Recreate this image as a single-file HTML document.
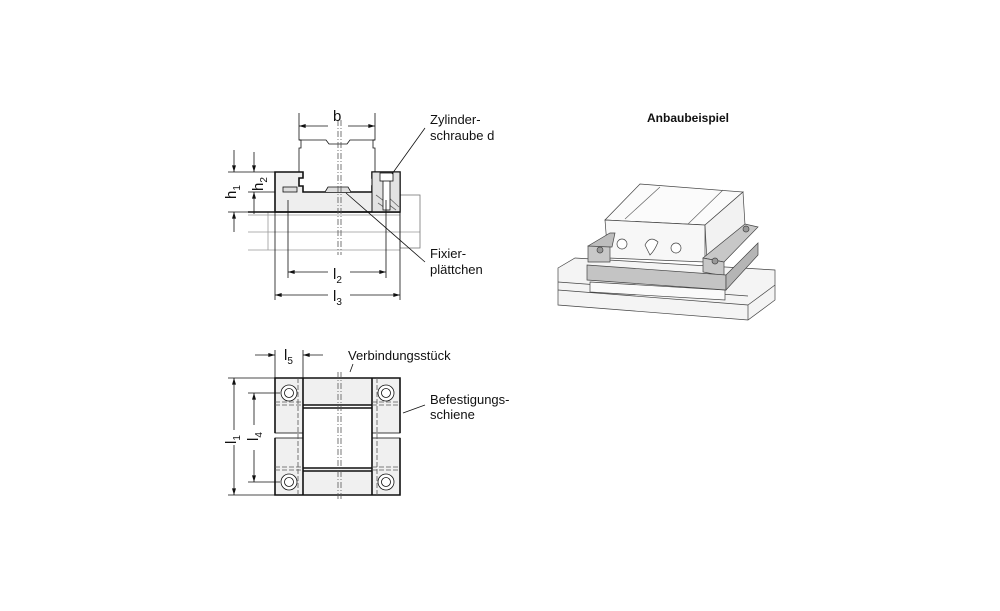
<!DOCTYPE html>
<html><head><meta charset="utf-8"><style>
html,body{margin:0;padding:0;background:#fff;width:1000px;height:611px;overflow:hidden}
text{font-family:"Liberation Sans",sans-serif;fill:#111}
</style></head><body>
<svg width="1000" height="611" viewBox="0 0 1000 611" xmlns="http://www.w3.org/2000/svg">
<defs>
<marker id="a" viewBox="0 0 10 6" refX="10" refY="3" markerWidth="9" markerHeight="4" markerUnits="userSpaceOnUse" orient="auto"><path d="M0,0L10,3L0,6z" fill="#111"/></marker>
</defs>
<g stroke="#111" fill="none" stroke-width="0.8">
<!-- TOP VIEW -->
<path d="M248,215H400M248,232H420M248,250H400M268,212V250" stroke="#999"/>
<rect x="400" y="195" width="20" height="53" stroke="#777"/>
<path d="M275,172H303V178H299V186H303V192H372V186H376V178H372V172H400V212H275Z" fill="#eee" stroke-width="1.6"/>
<rect x="372" y="172" width="28" height="40" fill="#e2e2e2" stroke-width="1"/>
<path d="M376,195L396,210M378,203L388,210M386,195L399,207" stroke="#666"/>
<rect x="383" y="180" width="7" height="30" fill="#fff"/>
<rect x="380" y="173" width="13" height="8" fill="#fff"/>
<rect x="283" y="187" width="14" height="5" fill="#ddd"/>
<path d="M325,192L328,187H348L351,192" fill="#ddd"/>
<path d="M248,212H400" stroke-width="1.6"/>
<path d="M299,172V148H301V140H299V113M375,113V140H373V148H375V172"/>
<path d="M299,140H326L329,144H347L350,140H375"/>
<path d="M328,126H299" marker-end="url(#a)"/>
<path d="M348,126H375" marker-end="url(#a)"/>
<path d="M338,120V255M341,120V255" stroke-dasharray="6,2,1,2" stroke="#555"/>
<path d="M288,200V278M386,200V278M275,212V300M400,212V300"/>
<path d="M328,272H288" marker-end="url(#a)"/>
<path d="M350,272H386" marker-end="url(#a)"/>
<path d="M328,295H275" marker-end="url(#a)"/>
<path d="M350,295H400" marker-end="url(#a)"/>
<path d="M228,172H275M248,192H275M228,212H268"/>
<path d="M234,150V172" marker-end="url(#a)"/>
<path d="M234,232V212" marker-end="url(#a)"/>
<path d="M254,152V172" marker-end="url(#a)"/>
<path d="M254,214V192" marker-end="url(#a)"/>
<path d="M425,128L392,174M425,262L346,193"/>

<!-- BOTTOM VIEW -->
<g fill="#f0f0f0">
<rect x="275" y="378" width="28" height="55"/><rect x="275" y="438" width="28" height="57"/>
<rect x="372" y="378" width="28" height="55"/><rect x="372" y="438" width="28" height="57"/>
<rect x="303" y="378" width="69" height="27"/><rect x="303" y="468" width="69" height="27"/>
</g>
<path d="M275,433V378H400V433M275,438V495H400V438M303,378V495M372,378V495" stroke-width="1.6"/>
<path d="M303,405H372M303,408H372M303,468H372M303,471H372" stroke-width="1.6"/>
<path d="M298,378V495M377,378V495M275,402H303M275,405H303M372,402H400M372,405H400M275,467H303M275,470H303M372,467H400M372,470H400" stroke-dasharray="5,2" stroke="#555"/>
<g fill="#fff">
<circle cx="289" cy="393" r="8"/><circle cx="289" cy="393" r="4.5"/>
<circle cx="386" cy="393" r="8"/><circle cx="386" cy="393" r="4.5"/>
<circle cx="289" cy="482" r="8"/><circle cx="289" cy="482" r="4.5"/>
<circle cx="386" cy="482" r="8"/><circle cx="386" cy="482" r="4.5"/>
</g>
<path d="M338,372V500M341,372V500" stroke-dasharray="6,2,1,2" stroke="#555"/>
<path d="M275,350V378M303,350V378"/>
<path d="M255,355H275" marker-end="url(#a)"/>
<path d="M323,355H303" marker-end="url(#a)"/>
<path d="M228,378H275M248,393H280M228,495H275M248,482H280"/>
<path d="M234,430V378" marker-end="url(#a)"/>
<path d="M234,445V495" marker-end="url(#a)"/>
<path d="M254,425V393" marker-end="url(#a)"/>
<path d="M254,450V482" marker-end="url(#a)"/>
<path d="M353,364L350,372M425,405L403,413"/>

<!-- 3D -->
<g stroke="#444" stroke-width="0.7">
<path d="M558,268L575,258L775,270L775,300L748,320L558,305Z" fill="#f4f4f4"/>
<path d="M558,290L748,305L748,320M558,282L748,296M748,305L775,285"/>
<path d="M590,282L725,290L725,300L590,292Z" fill="#fafafa"/>
<path d="M640,184L743,192L705,225L605,220Z" fill="#fbfbfb"/>
<path d="M605,220L705,225L705,262L608,258Z" fill="#f7f7f7"/>
<path d="M705,225L743,192L745,225L707,262Z" fill="#f2f2f2"/>
<path d="M625,219L660,187M688,224L723,190" stroke="#666"/>
<path d="M588,246L610,233L615,233L612,247L590,247Z" fill="#bdbdbd"/>
<path d="M703,258L745,224L758,227L724,262Z" fill="#c7c7c7"/>
<path d="M588,246L610,247L610,262L588,262Z" fill="#c8c8c8"/>
<path d="M703,258L724,262L724,276L703,272Z" fill="#c8c8c8"/>
<path d="M587,265L726,275L726,290L587,280Z" fill="#c4c4c4"/>
<path d="M726,275L758,243L758,255L726,290Z" fill="#b5b5b5"/>
<circle cx="622" cy="244" r="5" fill="#fff"/><circle cx="676" cy="248" r="5" fill="#fff"/>
<path d="M645,245Q650,235 658,242Q655,250 650,255Z" fill="#fff"/>
<circle cx="600" cy="250" r="3" fill="#999"/><circle cx="715" cy="261" r="3" fill="#999"/><circle cx="746" cy="229" r="3" fill="#999"/>
</g>
</g>
<g font-size="13">
<text x="333" y="121" font-size="15">b</text>
<text x="333" y="279" font-size="15">l<tspan font-size="10" dy="4">2</tspan></text>
<text x="333" y="301" font-size="15">l<tspan font-size="10" dy="4">3</tspan></text>
<text transform="translate(236,199) rotate(-90)" font-size="15">h<tspan font-size="10" dy="4">1</tspan></text>
<text transform="translate(263,191) rotate(-90)" font-size="15">h<tspan font-size="10" dy="4">2</tspan></text>
<text x="284" y="360" font-size="15">l<tspan font-size="10" dy="4">5</tspan></text>
<text transform="translate(236,444) rotate(-90)" font-size="15">l<tspan font-size="10" dy="4">1</tspan></text>
<text transform="translate(258,441) rotate(-90)" font-size="15">l<tspan font-size="10" dy="4">4</tspan></text>
<text x="430" y="124">Zylinder-</text>
<text x="430" y="140">schraube d</text>
<text x="430" y="258">Fixier-</text>
<text x="430" y="274">plättchen</text>
<text x="348" y="360">Verbindungsstück</text>
<text x="430" y="404">Befestigungs-</text>
<text x="430" y="419">schiene</text>
<text x="647" y="122" font-weight="bold" font-size="12">Anbaubeispiel</text>
</g>
</svg>
</body></html>
